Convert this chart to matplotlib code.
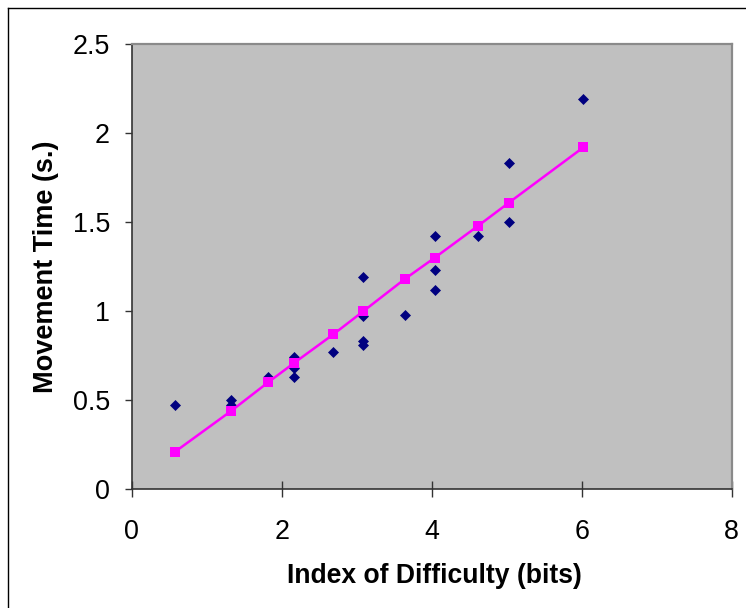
import matplotlib
matplotlib.use("Agg")
import matplotlib.pyplot as plt
from matplotlib.lines import Line2D

# Observed movement times
x_obs = [0.58, 1.33, 1.33, 1.82, 2.17, 2.17, 2.17, 2.69, 3.09, 3.09, 3.09, 3.09,
         3.64, 4.04, 4.04, 4.04, 4.62, 5.03, 5.03, 6.02]
y_obs = [0.47, 0.50, 0.47, 0.63, 0.74, 0.68, 0.63, 0.77, 1.19, 0.97, 0.83, 0.81,
         0.98, 1.42, 1.23, 1.12, 1.42, 1.83, 1.50, 2.19]

# Fitted (predicted) movement times
x_fit = [0.58, 1.33, 1.82, 2.17, 2.69, 3.09, 3.64, 4.04, 4.62, 5.03, 6.02]
y_fit = [0.21, 0.44, 0.60, 0.71, 0.87, 1.00, 1.18, 1.30, 1.48, 1.61, 1.92]

x_ticks = [0, 2, 4, 6, 8]
y_ticks = [0, 0.5, 1, 1.5, 2, 2.5]
y_tick_labels = ["0", "0.5", "1", "1.5", "2", "2.5"]

plt.rcParams['font.family'] = ['Liberation Sans', 'DejaVu Sans']

W, H = 746, 608
fig = plt.figure(figsize=(W / 100, H / 100), dpi=100)
L, R, T, B = 131.7, 731.7, 44.3, 489.0
ax = fig.add_axes([L / W, 1 - B / H, (R - L) / W, (B - T) / H])
ax.set_facecolor('#C0C0C0')

ax.plot(x_obs, y_obs, linestyle='none', marker='D', markersize=4.9,
        color='#000080', markeredgewidth=0.5, zorder=3)
ax.plot(x_fit, y_fit, color='#FF00FF', linewidth=1.8, marker='s',
        markersize=6.6, markeredgewidth=0, zorder=4)

ax.set_xlim(0, 8)
ax.set_ylim(0, 2.5)
ax.set_xticks(x_ticks)
ax.set_xticklabels([str(v) for v in x_ticks])
ax.set_yticks(y_ticks)
ax.set_yticklabels(y_tick_labels)

ax.tick_params(axis='x', direction='inout', length=11.5, width=1.0,
               color='#333333', labelsize=19.4, pad=16.0)
ax.tick_params(axis='y', direction='out', length=5.2, width=1.0,
               color='#333333', labelsize=19.4, pad=10.5)

for side in ('left', 'bottom'):
    ax.spines[side].set_color('#333333')
    ax.spines[side].set_linewidth(1.2)
for side in ('top', 'right'):
    ax.spines[side].set_color('#8a8a8a')
    ax.spines[side].set_linewidth(1.6)

ax.set_xlabel('Index of Difficulty (bits)', fontsize=19.1, fontweight='bold')
ax.xaxis.label.set_verticalalignment('baseline')
ax.xaxis.set_label_coords(0.504, (B - 583.3) / (B - T))

ax.set_ylabel('Movement Time (s.)', fontsize=19.5, fontweight='bold')
ax.yaxis.label.set_verticalalignment('baseline')
ax.yaxis.set_label_coords((53.3 - L) / (R - L), 0.5)

# outer chart border (top and left visible)
fig.add_artist(Line2D([8 / W, 8 / W], [0, 1 - 8 / H], transform=fig.transFigure,
                      color='black', linewidth=1.0))
fig.add_artist(Line2D([8 / W, 1], [1 - 8 / H, 1 - 8 / H], transform=fig.transFigure,
                      color='black', linewidth=1.0))

fig.savefig('out.png', dpi=100)
